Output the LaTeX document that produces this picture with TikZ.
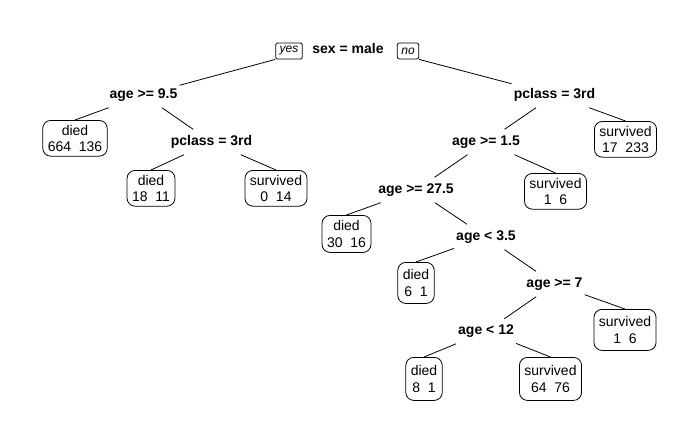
\documentclass[tikz,border=0pt]{standalone}
\usepackage{fontspec}
\setmainfont{Liberation Sans}
\tikzset{
  split/.style={font=\fontsize{14}{16}\selectfont\bfseries, inner xsep=2pt, inner ysep=0pt, minimum height=25pt},
  leaf/.style={draw, line width=0.8pt, rounded corners=8pt, align=center, anchor=north, font=\fontsize{14}{16.5}\selectfont, inner xsep=5pt, inner ysep=4.5pt},
  side/.style={draw, line width=0.8pt, rounded corners=2pt, font=\fontsize{12}{14}\selectfont\itshape, inner xsep=4pt, inner ysep=1pt, minimum height=16pt},
  branch/.style={line width=0.8pt}
}
\begin{document}
\begin{tikzpicture}[x=1pt, y=-1pt]
    \useasboundingbox (0,0) rectangle (700,432);
    \fill[white] (0,0) rectangle (700,432);

    % Nodes
    \node (root) at (348,48) [split] {sex = male};
    \node (yes) at (289,51) [side] {yes};
    \node (no) at (408,51) [side] {no};

    \node (age95) at (143.5,95) [split] {age >= 9.5};
    \node (died664) at (75,120) [leaf] {died\\664\ \ 136};
    \node (pclassL) at (211.5,142) [split] {pclass = 3rd};
    \node (died18) at (151,170) [leaf] {died\\18\ \ 11};
    \node (surv0) at (276,170) [leaf] {survived\\0\ \ 14};

    \node (pclassR) at (554.5,95) [split] {pclass = 3rd};
    \node (surv17) at (625.5,121) [leaf] {survived\\17\ \ 233};
    \node (age15) at (486,142) [split] {age >= 1.5};
    \node (surv1a) at (555.5,173) [leaf] {survived\\1\ \ 6};
    \node (age275) at (416,190) [split] {age >= 27.5};
    \node (died30) at (346.5,215) [leaf, minimum height=37pt] {died\\30\ \ 16};
    \node (age35) at (486,237) [split] {age < 3.5};
    \node (died6) at (416,262) [leaf, minimum height=41pt] {died\\6\ \ 1};
    \node (age7) at (554.5,284) [split] {age >= 7};
    \node (surv1b) at (625,309) [leaf, minimum height=41pt] {survived\\1\ \ 6};
    \node (age12) at (486,331.5) [split] {age < 12};
    \node (died8) at (424,357) [leaf, minimum height=43pt] {died\\8\ \ 1};
    \node (surv64) at (550.5,357) [leaf, minimum height=43pt] {survived\\64\ \ 76};

    % Edges
    \draw[branch] (yes.south west) -- (age95);
    \draw[branch] (no.south east) -- (pclassR);

    \draw[branch] (age95) -- (died664.north);
    \draw[branch] (age95) -- (pclassL);
    \draw[branch] (pclassL) -- (died18.north);
    \draw[branch] (pclassL) -- (surv0.north);

    \draw[branch] (pclassR) -- (age15);
    \draw[branch] (pclassR) -- (surv17.north);
    \draw[branch] (age15) -- (age275);
    \draw[branch] (age15) -- (surv1a.north);
    \draw[branch] (age275) -- (died30.north);
    \draw[branch] (age275) -- (age35);
    \draw[branch] (age35) -- (died6.north);
    \draw[branch] (age35) -- (age7);
    \draw[branch] (age7) -- (age12);
    \draw[branch] (age7) -- (surv1b.north);
    \draw[branch] (age12) -- (died8.north);
    \draw[branch] (age12) -- (surv64.north);

\end{tikzpicture}
\end{document}
